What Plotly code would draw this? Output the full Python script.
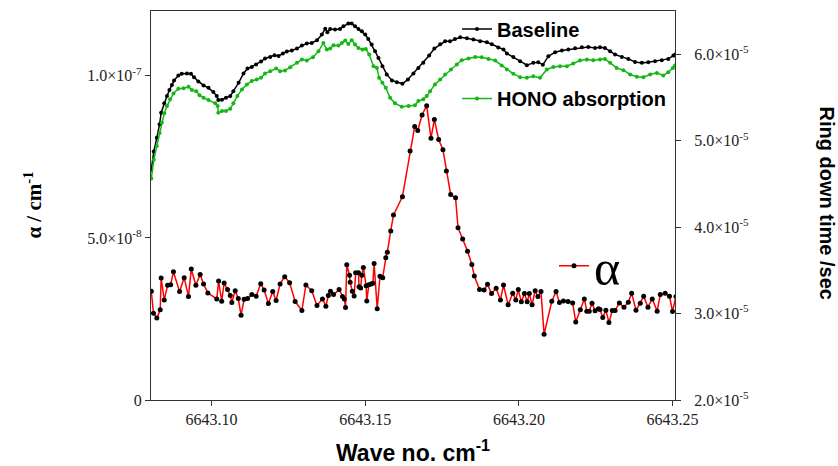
import plotly.graph_objects as go

# ---------------- data ----------------
alpha_wn = [6643.0804, 6643.0811, 6643.0822, 6643.0833, 6643.0836, 6643.0846, 6643.0857, 6643.0867,
            6643.0876, 6643.0896, 6643.0911, 6643.0925, 6643.0934, 6643.0949, 6643.0963, 6643.0974,
            6643.0988, 6643.1017, 6643.1023, 6643.1033, 6643.1041, 6643.1052, 6643.1061, 6643.1066,
            6643.1077, 6643.1087, 6643.1096, 6643.1106, 6643.1117, 6643.1131, 6643.1145, 6643.1160,
            6643.1171, 6643.1185, 6643.1199, 6643.1210, 6643.1223, 6643.1238, 6643.1254, 6643.1272,
            6643.1294, 6643.1307, 6643.1326, 6643.1343, 6643.1361, 6643.1372, 6643.1380, 6643.1387,
            6643.1397, 6643.1415, 6643.1426, 6643.1432, 6643.1436, 6643.1440, 6643.1449, 6643.1451,
            6643.1458, 6643.1464, 6643.1469, 6643.1478, 6643.1480, 6643.1485, 6643.1489, 6643.1494,
            6643.1503, 6643.1505, 6643.1512, 6643.1519, 6643.1525, 6643.1529, 6643.1539, 6643.1548,
            6643.1557, 6643.1567, 6643.1572, 6643.1583, 6643.1592, 6643.1621, 6643.1646, 6643.1661,
            6643.1671, 6643.1685, 6643.1700, 6643.1714, 6643.1725, 6643.1739, 6643.1753, 6643.1764,
            6643.1778, 6643.1794, 6643.1802, 6643.1817, 6643.1833, 6643.1847, 6643.1855, 6643.1872,
            6643.1887, 6643.1898, 6643.1911, 6643.1926, 6643.1940, 6643.1950, 6643.1965, 6643.1980,
            6643.1990, 6643.1998, 6643.2008, 6643.2018, 6643.2027, 6643.2034, 6643.2043, 6643.2053,
            6643.2062, 6643.2072, 6643.2082, 6643.2107, 6643.2121, 6643.2132, 6643.2145, 6643.2160,
            6643.2175, 6643.2185, 6643.2200, 6643.2213, 6643.2221, 6643.2229, 6643.2238, 6643.2248,
            6643.2259, 6643.2264, 6643.2273, 6643.2283, 6643.2293, 6643.2304, 6643.2313, 6643.2327,
            6643.2342, 6643.2356, 6643.2367, 6643.2381, 6643.2395, 6643.2406, 6643.2420, 6643.2434,
            6643.2450, 6643.2460, 6643.2476, 6643.2490, 6643.2500, 6643.2511]

# alpha in units of 1e-8 cm^-1
alpha_val = [3.354, 2.679, 2.526, 2.781, 3.763, 3.088, 3.538, 3.558,
             3.957, 3.344, 3.773, 3.190, 4.039, 3.538, 3.875, 3.579,
             3.303, 3.119, 3.671, 3.047, 3.609, 3.405, 3.221, 3.006,
             3.374, 3.129, 2.618, 3.108, 3.129, 3.252, 3.200, 3.589,
             3.395, 2.975, 3.344, 3.068, 3.579, 3.804, 3.620, 3.037,
             2.761, 3.548, 3.374, 2.914, 3.119, 2.894, 3.221, 3.354,
             3.252, 3.405, 3.190, 3.119, 2.853, 4.172, 3.845, 3.630,
             3.354, 3.211, 3.926, 3.926, 3.497, 3.456, 3.845, 4.090,
             3.528, 3.057, 3.558, 3.579, 3.599, 4.213, 2.812, 3.814,
             3.773, 4.387, 4.560, 5.215, 5.706, 6.268, 7.679, 8.436,
             8.313, 8.794, 9.080, 8.078, 8.650, 8.037, 7.720, 7.065,
             6.340, 6.237, 5.317, 4.969, 4.586, 4.182, 3.824, 3.405,
             3.395, 3.568, 3.282, 3.446, 3.088, 3.548, 2.935, 3.292,
             3.088, 3.405, 3.027, 3.282, 3.027, 3.282, 2.935, 3.374,
             3.190, 3.344, 2.025, 3.047, 3.344, 3.006, 3.057, 3.037,
             2.996, 2.403, 2.781, 3.119, 2.740, 2.740, 2.986, 2.751,
             2.812, 2.791, 2.546, 2.771, 2.393, 2.761, 2.761, 2.996,
             2.863, 3.016, 3.292, 2.771, 2.986, 3.200, 2.863, 3.119,
             2.740, 3.252, 3.292, 3.200, 2.730, 3.190]

baseline_wn = [6643.0804, 6643.0812, 6643.0822, 6643.0831, 6643.0836, 6643.0846, 6643.0855, 6643.0863,
               6643.0871, 6643.0878, 6643.0892, 6643.0903, 6643.0920, 6643.0933, 6643.0943, 6643.0957,
               6643.0974, 6643.0990, 6643.1006, 6643.1017, 6643.1022, 6643.1034, 6643.1047, 6643.1061,
               6643.1071, 6643.1088, 6643.1104, 6643.1117, 6643.1131, 6643.1145, 6643.1161, 6643.1174,
               6643.1191, 6643.1205, 6643.1218, 6643.1232, 6643.1245, 6643.1261, 6643.1278, 6643.1294,
               6643.1310, 6643.1326, 6643.1343, 6643.1359, 6643.1370, 6643.1377, 6643.1386, 6643.1402,
               6643.1418, 6643.1429, 6643.1445, 6643.1456, 6643.1467, 6643.1478, 6643.1489, 6643.1500,
               6643.1510, 6643.1521, 6643.1532, 6643.1543, 6643.1556, 6643.1570, 6643.1587, 6643.1603,
               6643.1621, 6643.1639, 6643.1657, 6643.1673, 6643.1689, 6643.1708, 6643.1725, 6643.1744,
               6643.1760, 6643.1776, 6643.1792, 6643.1809, 6643.1831, 6643.1852, 6643.1874, 6643.1896,
               6643.1912, 6643.1933, 6643.1950, 6643.1961, 6643.1982, 6643.2004, 6643.2026, 6643.2047,
               6643.2063, 6643.2078, 6643.2096, 6643.2118, 6643.2140, 6643.2161, 6643.2183, 6643.2205,
               6643.2226, 6643.2248, 6643.2264, 6643.2280, 6643.2297, 6643.2313, 6643.2335, 6643.2356,
               6643.2378, 6643.2400, 6643.2421, 6643.2443, 6643.2465, 6643.2486, 6643.2503, 6643.2510]

# ring down time in units of 1e-5 s
baseline_rd = [4.663, 4.874, 5.035, 5.190, 5.323, 5.432, 5.516, 5.585,
               5.643, 5.697, 5.754, 5.773, 5.777, 5.773, 5.735, 5.685,
               5.639, 5.611, 5.562, 5.516, 5.470, 5.473, 5.496, 5.516,
               5.573, 5.669, 5.777, 5.835, 5.853, 5.881, 5.916, 5.950,
               5.969, 5.988, 5.980, 6.008, 6.031, 6.043, 6.066, 6.100,
               6.123, 6.130, 6.161, 6.227, 6.296, 6.253, 6.292, 6.285,
               6.292, 6.323, 6.354, 6.354, 6.323, 6.292, 6.265, 6.227,
               6.176, 6.112, 6.034, 5.957, 5.862, 5.766, 5.697, 5.677,
               5.658, 5.708, 5.777, 5.842, 5.900, 5.985, 6.066, 6.115,
               6.150, 6.150, 6.176, 6.196, 6.184, 6.169, 6.150, 6.138,
               6.115, 6.077, 6.054, 6.008, 5.969, 5.919, 5.873, 5.900,
               5.908, 5.877, 5.977, 6.023, 6.043, 6.054, 6.069, 6.081,
               6.084, 6.073, 6.081, 6.073, 6.034, 5.996, 5.969, 5.946,
               5.911, 5.900, 5.908, 5.919, 5.931, 5.946, 5.985, 6.000]

hono_wn = [6643.0804, 6643.0812, 6643.0822, 6643.0831, 6643.0838, 6643.0846, 6643.0855, 6643.0865,
           6643.0876, 6643.0892, 6643.0909, 6643.0925, 6643.0936, 6643.0950, 6643.0961, 6643.0974,
           6643.0990, 6643.1012, 6643.1020, 6643.1022, 6643.1034, 6643.1047, 6643.1061, 6643.1071,
           6643.1084, 6643.1099, 6643.1115, 6643.1131, 6643.1147, 6643.1161, 6643.1174, 6643.1191,
           6643.1210, 6643.1223, 6643.1239, 6643.1256, 6643.1278, 6643.1294, 6643.1310, 6643.1330,
           6643.1348, 6643.1364, 6643.1375, 6643.1386, 6643.1397, 6643.1413, 6643.1424, 6643.1435,
           6643.1445, 6643.1456, 6643.1467, 6643.1478, 6643.1491, 6643.1502, 6643.1513, 6643.1527,
           6643.1538, 6643.1545, 6643.1556, 6643.1567, 6643.1581, 6643.1597, 6643.1619, 6643.1641,
           6643.1662, 6643.1673, 6643.1689, 6643.1700, 6643.1711, 6643.1727, 6643.1744, 6643.1760,
           6643.1779, 6643.1798, 6643.1814, 6643.1836, 6643.1858, 6643.1879, 6643.1901, 6643.1923,
           6643.1944, 6643.1961, 6643.1982, 6643.2004, 6643.2026, 6643.2047, 6643.2069, 6643.2091,
           6643.2112, 6643.2134, 6643.2156, 6643.2177, 6643.2199, 6643.2221, 6643.2242, 6643.2264,
           6643.2280, 6643.2297, 6643.2318, 6643.2340, 6643.2362, 6643.2384, 6643.2405, 6643.2427,
           6643.2449, 6643.2470, 6643.2486, 6643.2501, 6643.2508]

hono_rd = [4.562, 4.778, 4.939, 5.089, 5.208, 5.316, 5.400, 5.478,
           5.547, 5.600, 5.605, 5.623, 5.585, 5.573, 5.524, 5.496,
           5.470, 5.432, 5.400, 5.323, 5.343, 5.343, 5.369, 5.432,
           5.516, 5.593, 5.651, 5.689, 5.708, 5.727, 5.777, 5.804,
           5.835, 5.804, 5.812, 5.850, 5.900, 5.939, 5.927, 5.965,
           6.034, 6.130, 6.054, 6.066, 6.104, 6.100, 6.130, 6.158,
           6.119, 6.161, 6.112, 6.073, 6.054, 6.061, 5.996, 5.862,
           5.842, 5.727, 5.669, 5.611, 5.496, 5.432, 5.392, 5.400,
           5.409, 5.458, 5.478, 5.516, 5.573, 5.651, 5.708, 5.766,
           5.824, 5.881, 5.931, 5.950, 5.969, 5.965, 5.946, 5.927,
           5.870, 5.824, 5.773, 5.735, 5.727, 5.746, 5.727, 5.824,
           5.853, 5.862, 5.862, 5.893, 5.927, 5.939, 5.931, 5.939,
           5.946, 5.900, 5.842, 5.815, 5.766, 5.738, 5.735, 5.766,
           5.784, 5.754, 5.792, 5.842, 5.870]

x_ticks = [6643.10, 6643.15, 6643.20, 6643.25]
x_ticklabels = ["6643.10", "6643.15", "6643.20", "6643.25"]
left_ticks = [0, 5.0e-8, 1.0e-7]
left_ticklabels = ["0", "5.0×10<sup>-8</sup>", "1.0×10<sup>-7</sup>"]
right_ticks = [2.0e-5, 3.0e-5, 4.0e-5, 5.0e-5, 6.0e-5]
right_ticklabels = ["2.0×10<sup>-5</sup>", "3.0×10<sup>-5</sup>", "4.0×10<sup>-5</sup>",
                    "5.0×10<sup>-5</sup>", "6.0×10<sup>-5</sup>"]

GREEN = "#14b814"
SERIF = "Times New Roman"
SANS = "Arial"

fig = go.Figure()

fig.add_trace(go.Scatter(
    x=alpha_wn, y=[v * 1e-8 for v in alpha_val], name="α", mode="lines+markers",
    line=dict(color="#ff0000", width=1.5),
    marker=dict(color="black", size=5),
    legend="legend3", yaxis="y"))

fig.add_trace(go.Scatter(
    x=baseline_wn, y=[v * 1e-5 for v in baseline_rd], name="Baseline", mode="lines+markers",
    line=dict(color="black", width=1.5),
    marker=dict(color="black", size=4),
    legend="legend", yaxis="y2"))

fig.add_trace(go.Scatter(
    x=hono_wn, y=[v * 1e-5 for v in hono_rd], name="HONO absorption", mode="lines+markers",
    line=dict(color=GREEN, width=1.5),
    marker=dict(color=GREEN, size=4),
    legend="legend2", yaxis="y2"))

axis_common = dict(showgrid=False, zeroline=False, showline=True, linecolor="#333",
                   linewidth=1.2, ticks="outside", ticklen=5, tickcolor="#333",
                   tickfont=dict(family=SERIF, size=16, color="#222"))

fig.update_layout(
    width=838, height=466,
    margin=dict(l=151, r=163, t=9, b=66),
    plot_bgcolor="white", paper_bgcolor="white",
    xaxis=dict(range=[6643.0803, 6643.2508], tickvals=x_ticks, ticktext=x_ticklabels,
               mirror=True, **axis_common),
    yaxis=dict(range=[0, 1.2e-7], tickvals=left_ticks, ticktext=left_ticklabels, **axis_common),
    yaxis2=dict(range=[2.0e-5, 6.5e-5], tickvals=right_ticks, ticktext=right_ticklabels,
                overlaying="y", side="right", ticklabelstandoff=10, **axis_common),
    legend=dict(x=0.584, y=0.954, xanchor="left", yanchor="middle", bgcolor="rgba(0,0,0,0)",
                font=dict(family=SANS, size=20, color="black", weight="bold")),
    legend2=dict(x=0.584, y=0.775, xanchor="left", yanchor="middle", bgcolor="rgba(0,0,0,0)",
                 font=dict(family=SANS, size=20, color="black", weight="bold")),
    legend3=dict(x=0.769, y=0.345, xanchor="left", yanchor="middle", bgcolor="rgba(0,0,0,0)",
                 font=dict(family=SERIF, size=50, color="black")),
    showlegend=True,
    annotations=[
        dict(text="<b>α / cm<sup>-1</sup></b>", xref="paper", yref="paper",
             x=-0.225, y=0.5, xanchor="center", yanchor="middle", textangle=-90,
             showarrow=False, font=dict(family=SERIF, size=21, color="black")),
        dict(text="<b>Ring down time /sec</b>", xref="paper", yref="paper",
             x=1.29, y=0.505, xanchor="center", yanchor="middle", textangle=90,
             showarrow=False, font=dict(family=SANS, size=20, color="black")),
        dict(text="<b>Wave no. cm<sup>-1</sup></b>", xref="paper", yref="paper",
             x=0.5, y=-0.13, xanchor="center", yanchor="middle", showarrow=False,
             font=dict(family=SANS, size=23, color="black")),
    ],
)

fig.write_html("out.html")
